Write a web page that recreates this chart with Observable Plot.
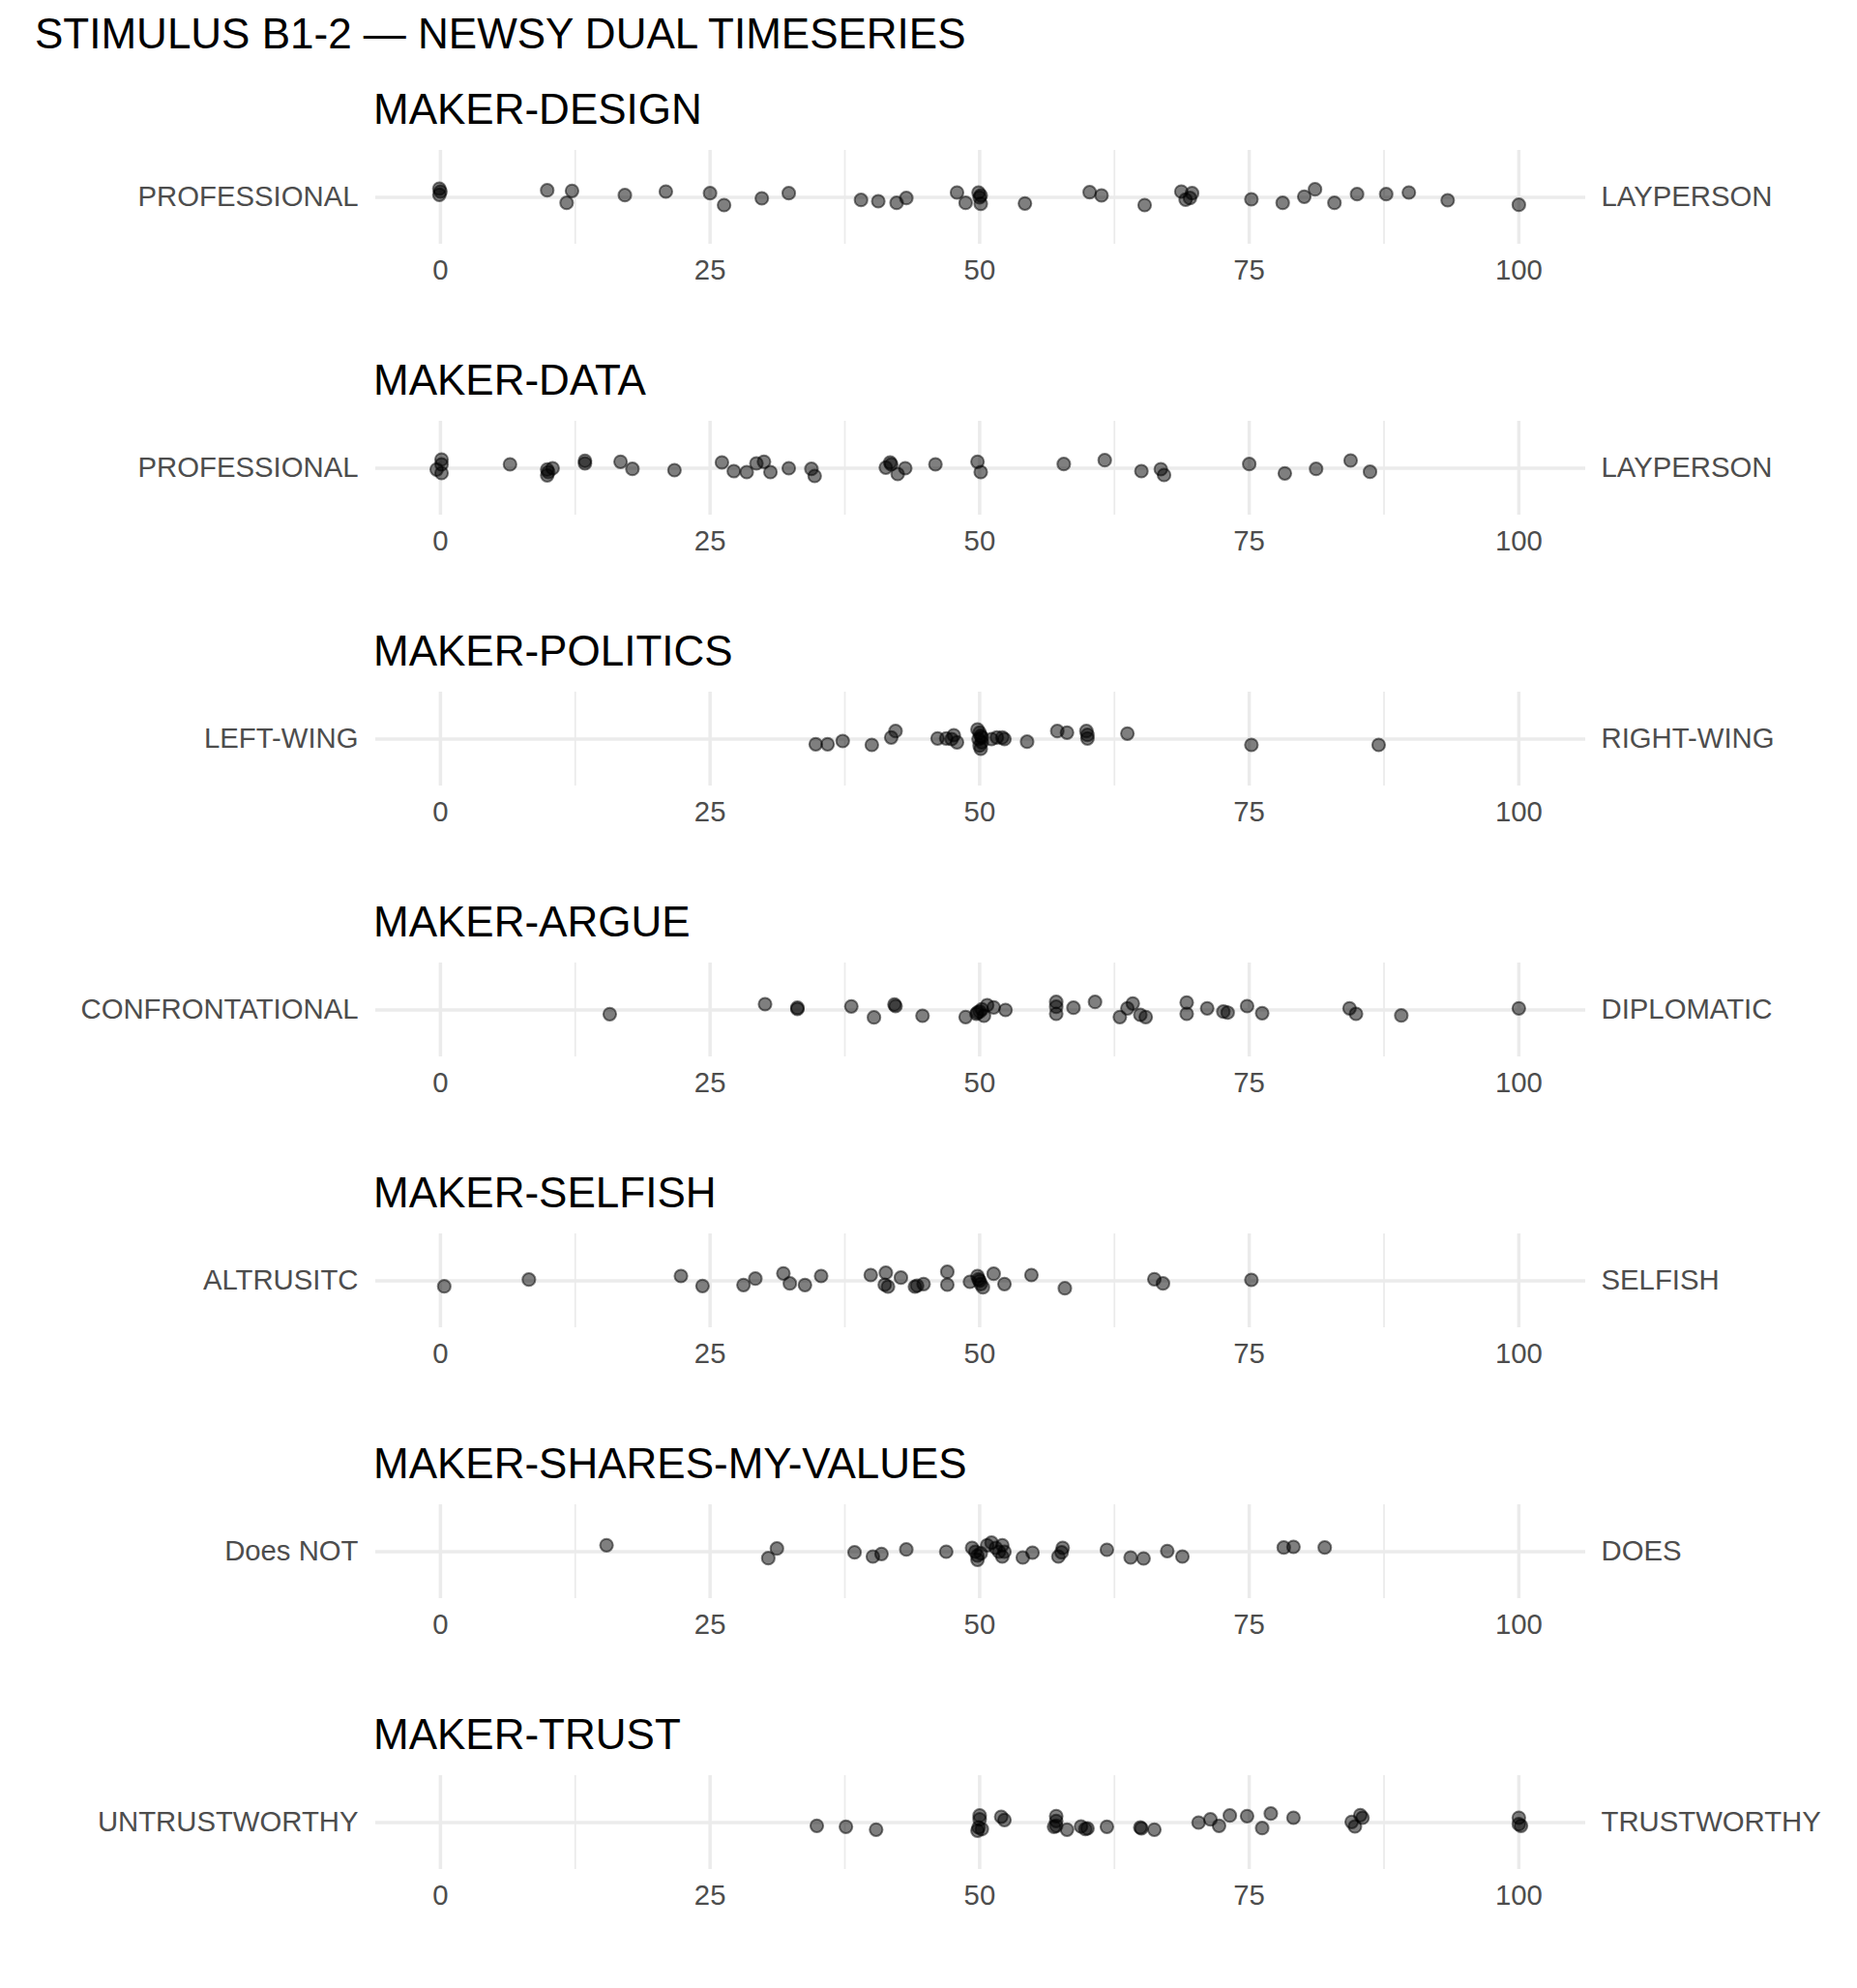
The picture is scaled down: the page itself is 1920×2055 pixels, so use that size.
<!DOCTYPE html>
<html><head><meta charset="utf-8">
<script src="https://cdn.jsdelivr.net/npm/d3@7"></script>
<script src="https://cdn.jsdelivr.net/npm/@observablehq/plot@0.6"></script>
<style>
body{margin:0;background:#fff;font-family:"Liberation Sans",Arial,Helvetica,sans-serif;}
#chart{position:relative;width:1920px;height:2055px;}
.main-title{position:absolute;left:36px;top:13px;font-size:44px;line-height:44px;color:#000;white-space:nowrap;}
.panel{position:absolute;left:0;width:1920px;height:280px;}
.panel-title{position:absolute;left:386px;top:47.5px;font-size:44px;line-height:44px;color:#000;white-space:nowrap;z-index:2;}
.panel svg{position:absolute;left:0;top:0;}
</style></head><body><div id="chart"></div><script>
const mainTitle = "STIMULUS B1-2 — NEWSY DUAL TIMESERIES";
const panelTitles = ["MAKER-DESIGN","MAKER-DATA","MAKER-POLITICS","MAKER-ARGUE","MAKER-SELFISH","MAKER-SHARES-MY-VALUES","MAKER-TRUST"];
const leftLabels = ["PROFESSIONAL","PROFESSIONAL","LEFT-WING","CONFRONTATIONAL","ALTRUSITC","Does NOT","UNTRUSTWORTHY"];
const rightLabels = ["LAYPERSON","LAYPERSON","RIGHT-WING","DIPLOMATIC","SELFISH","DOES","TRUSTWORTHY"];
const xTicks = [0,25,50,75,100];
const xMinor = [12.5,37.5,62.5,87.5];

// [rating, vertical jitter (px, positive = down)]
const makerDesign = [[-0.1,-9],[0,-6],[-0.1,-2.7],[9.9,-7.3],[12.2,-6.7],[11.7,5.7],[17.1,-2.3],[20.9,-6],[25.0,-4.3],[26.3,8],[29.8,1],[32.3,-4.3],[39.0,2.7],[40.6,4],[42.3,5.7],[43.2,0.7],[47.9,-5],[48.7,5.7],[49.9,-5],[50.1,-2],[50,0],[50.1,6.7],[54.2,6.3],[60.2,-5.3],[61.3,-2],[65.3,8],[68.7,-6],[69.7,-4.3],[69.1,2.3],[69.5,0.7],[75.2,2],[78.1,5.7],[80.1,-0.7],[81.1,-8.3],[82.9,5.7],[85.0,-3.3],[87.7,-3.3],[89.8,-5],[93.4,3],[100,7.7]];
const makerData = [[0.1,-9],[0.1,-4],[-0.35,1.3],[0.1,5],[6.45,-4],[9.9,1.3],[9.9,7.3],[10.4,0],[10.0,4],[13.4,-7.7],[13.4,-5],[16.7,-6.7],[17.8,0.7],[21.7,2],[26.1,-6],[27.2,3],[28.4,4],[29.3,-5],[30.0,-6.7],[30.6,4],[32.3,0],[34.4,0.7],[34.7,8],[41.3,-0.7],[41.7,-6],[41.8,-4],[42.4,6],[43.1,0],[45.9,-4],[49.8,-6.7],[50.1,4],[57.8,-4.3],[61.6,-8.3],[65.0,3],[66.8,1],[67.1,7],[75.0,-4.3],[78.3,5.3],[81.2,0.7],[84.4,-8],[86.2,3.7]];
const makerPolitics = [[34.8,5.3],[35.9,5.3],[37.3,2],[40.0,6],[42.2,-8.3],[41.8,-1.7],[46.1,-0.7],[46.9,-0.7],[47.6,-4],[47.9,3.3],[47.4,0],[49.8,-10],[50,-6.7],[50.1,-3.3],[49.9,0],[50.2,3.3],[50,6.7],[50.1,10],[50.2,-1.7],[51.1,0],[51.6,-1.7],[52.1,-1.7],[52.3,0],[54.4,2.7],[57.2,-8.3],[58.1,-6.7],[59.9,-8.3],[60.0,-0.7],[60.0,-4.3],[63.7,-5.7],[75.2,6],[87.0,6]];
const makerArgue = [[15.7,4.3],[30.1,-6],[33.1,-2.3],[33.1,-1],[38.1,-3.7],[40.2,7.7],[42.1,-5.7],[42.2,-4],[44.7,6],[48.7,7.3],[49.8,2.7],[49.7,4],[50,1.7],[50.2,-0.7],[50.4,6],[50.7,-5],[51.3,-2.7],[52.4,0],[57.1,-8.3],[57.1,-3.3],[57.1,4],[58.7,-2.3],[60.7,-8.3],[63.0,7.3],[63.7,-1.7],[64.2,-6.7],[64.9,5],[65.4,7.3],[69.2,-7.7],[69.2,4],[71.1,-1.7],[72.6,1.7],[73.0,2.7],[74.8,-4],[76.2,3.3],[84.3,-1.7],[84.9,4],[89.1,5.7],[100.0,-1.7]];
const makerSelfish = [[0.35,5.7],[8.2,-1.3],[22.3,-5],[24.3,5.3],[28.1,4.3],[29.2,-2.3],[31.8,-7.7],[32.4,2.7],[33.8,4.3],[35.3,-5],[39.9,-6],[41.3,-8.3],[41.2,4],[41.5,6],[42.7,-3.3],[44.0,6],[44.2,5],[44.8,3.3],[47.0,-9.3],[47.0,4],[49.1,1],[49.8,-5],[50,0],[50.1,3.3],[50.3,6.7],[49.9,-1.7],[51.3,-7.3],[52.3,3.3],[54.8,-6],[57.9,7.7],[66.2,-1.7],[67.0,2.7],[75.2,-1]];
const makerValues = [[15.4,-6.7],[30.4,6.7],[31.2,-3.3],[38.4,0.7],[40.1,5],[40.9,2.3],[43.2,-2.3],[46.9,0],[49.3,-4],[49.6,0],[49.8,4],[49.8,8.3],[50.1,1.7],[50.7,-6.7],[51.1,-9.3],[51.5,-4],[51.8,0],[52.1,-6.7],[52.1,5],[52.3,0],[54.0,6],[54.9,1],[57.3,5],[57.7,-4],[57.6,0.7],[61.8,-2],[64.0,6],[65.2,7],[67.4,-0.7],[68.8,5],[78.2,-4.3],[79.1,-5],[82.0,-4.3]];
const makerTrust = [[34.9,3.3],[37.6,4.3],[40.4,7.3],[50.0,-7.3],[50.0,-3.3],[49.9,5],[50.2,6.7],[49.8,8.3],[52.0,-6],[52.3,-2.7],[57.1,-6.7],[57.1,-1.7],[56.9,4.3],[57.1,3.3],[58.1,7.3],[59.4,4],[60.0,6],[59.8,6.7],[61.8,4.3],[64.9,5],[65.0,6],[66.2,7.3],[70.3,0],[71.4,-3.3],[72.2,3.3],[73.2,-7.3],[74.8,-6.7],[76.2,5.7],[77.0,-9.3],[79.1,-5],[84.5,-0.7],[84.8,4],[85.3,-7.7],[85.5,-5],[100,-5],[100,1.7],[100.2,3.3]];

const panels = [makerDesign, makerData, makerPolitics, makerArgue, makerSelfish, makerValues, makerTrust];

const chart = document.getElementById("chart");
const t = document.createElement("div");
t.className = "main-title";
t.textContent = mainTitle;
chart.appendChild(t);

const font = '"Liberation Sans", Arial, Helvetica, sans-serif';
panels.forEach((pts, i) => {
  const data = pts.map(([v, j]) => ({v, j}));
  const wrap = document.createElement("div");
  wrap.className = "panel";
  wrap.style.top = (43 + 280 * i) + "px";
  const svg = Plot.plot({
    width: 1920, height: 280,
    marginTop: 112, marginBottom: 71, marginLeft: 388, marginRight: 281,
    x: {domain: [-6.0, 106.2]},
    y: {domain: [48.5, -48.5], axis: null},
    style: {fontFamily: font, fontSize: "29.3px", background: "transparent", overflow: "visible"},
    marks: [
      Plot.ruleX(xMinor, {stroke: "#ebebeb", strokeWidth: 1.75}),
      Plot.ruleX(xTicks, {stroke: "#ebebeb", strokeWidth: 3.5}),
      Plot.ruleY([0], {stroke: "#ebebeb", strokeWidth: 3.5}),
      Plot.axisX({ticks: xTicks, tickSize: 0, tickPadding: 16, color: "#4d4d4d", fontSize: 29.3, label: null}),
      Plot.dot(data, {x: "v", y: "j", r: 6.6, fill: "black", fillOpacity: 0.5, stroke: "black", strokeOpacity: 0.5, strokeWidth: 2}),
      Plot.text([leftLabels[i]], {text: d => d, frameAnchor: "left", dx: -18, textAnchor: "end", fill: "#4d4d4d", fontSize: 29.3}),
      Plot.text([rightLabels[i]], {text: d => d, frameAnchor: "right", dx: 16, textAnchor: "start", fill: "#4d4d4d", fontSize: 29.3})
    ]
  });
  wrap.appendChild(svg);
  const pt = document.createElement("div");
  pt.className = "panel-title";
  pt.textContent = panelTitles[i];
  wrap.appendChild(pt);
  chart.appendChild(wrap);
});
</script></body></html>
